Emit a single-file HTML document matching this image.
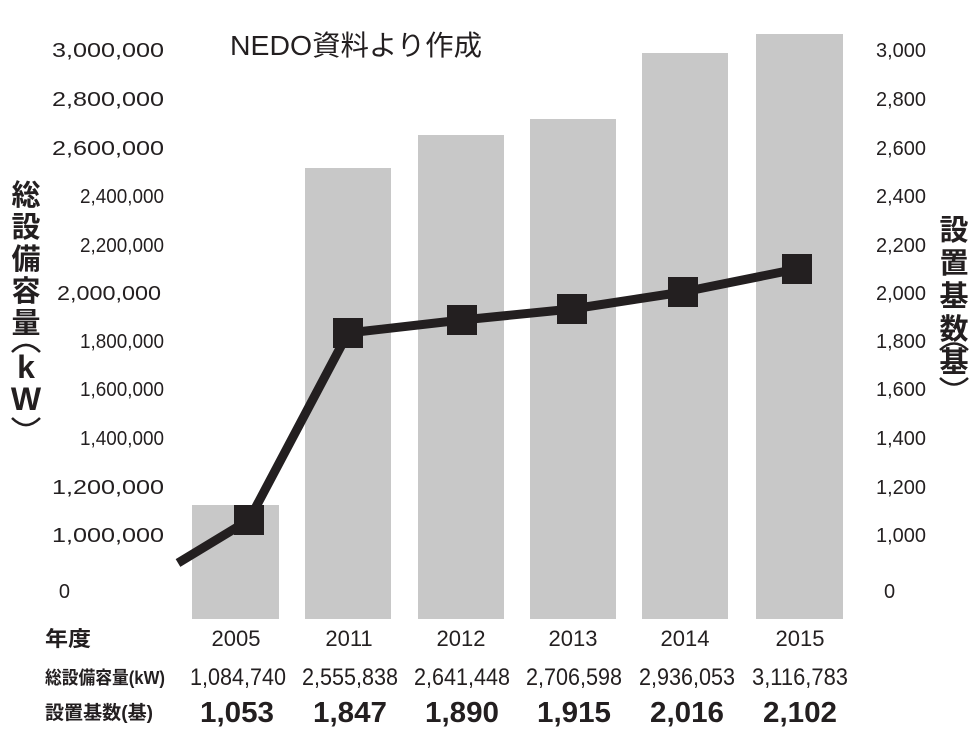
<!DOCTYPE html>
<html><head><meta charset="utf-8"><style>
html,body{margin:0;padding:0;background:#fff}
svg{display:block}
text{font-family:"Liberation Sans","Noto Sans CJK JP",sans-serif;fill:#231f20}
</style></head><body>
<svg width="975" height="731" viewBox="0 0 975 731" xmlns="http://www.w3.org/2000/svg">
<g fill="#c8c8c8">
<rect x="192" y="505" width="87" height="114"/>
<rect x="305" y="168" width="86" height="451"/>
<rect x="418" y="135" width="86" height="484"/>
<rect x="530" y="119" width="86" height="500"/>
<rect x="642" y="53" width="86" height="566"/>
<rect x="756" y="34" width="87" height="585"/>
</g>
<polyline points="178,563 249,520 348,333 462,320 572,309 683,292 797,269" fill="none" stroke="#231f20" stroke-width="9" stroke-linejoin="round"/>
<g fill="#231f20">
<rect x="234" y="505" width="30" height="30"/>
<rect x="333" y="318" width="30" height="30"/>
<rect x="447" y="305" width="30" height="30"/>
<rect x="557" y="294" width="30" height="30"/>
<rect x="668" y="277" width="30" height="30"/>
<rect x="782" y="254" width="30" height="30"/>
</g>
<text x="230" y="55" font-size="28" textLength="252" lengthAdjust="spacingAndGlyphs">NEDO資料より作成</text>
<g font-size="20" text-anchor="end">
<text x="164" y="57" textLength="112" lengthAdjust="spacingAndGlyphs">3,000,000</text>
<text x="164" y="106" textLength="112" lengthAdjust="spacingAndGlyphs">2,800,000</text>
<text x="164" y="155" textLength="112" lengthAdjust="spacingAndGlyphs">2,600,000</text>
<text x="164" y="203" textLength="84" lengthAdjust="spacingAndGlyphs">2,400,000</text>
<text x="164" y="252" textLength="84" lengthAdjust="spacingAndGlyphs">2,200,000</text>
<text x="161" y="300" textLength="104" lengthAdjust="spacingAndGlyphs">2,000,000</text>
<text x="164" y="348" textLength="84" lengthAdjust="spacingAndGlyphs">1,800,000</text>
<text x="164" y="396" textLength="84" lengthAdjust="spacingAndGlyphs">1,600,000</text>
<text x="164" y="445" textLength="84" lengthAdjust="spacingAndGlyphs">1,400,000</text>
<text x="164" y="494" textLength="112" lengthAdjust="spacingAndGlyphs">1,200,000</text>
<text x="164" y="542" textLength="112" lengthAdjust="spacingAndGlyphs">1,000,000</text>
<text x="70" y="598">0</text>
</g>
<g font-size="20">
<text x="876" y="57" textLength="50" lengthAdjust="spacingAndGlyphs">3,000</text>
<text x="876" y="106" textLength="50" lengthAdjust="spacingAndGlyphs">2,800</text>
<text x="876" y="155" textLength="50" lengthAdjust="spacingAndGlyphs">2,600</text>
<text x="876" y="203" textLength="50" lengthAdjust="spacingAndGlyphs">2,400</text>
<text x="876" y="252" textLength="50" lengthAdjust="spacingAndGlyphs">2,200</text>
<text x="876" y="300" textLength="50" lengthAdjust="spacingAndGlyphs">2,000</text>
<text x="876" y="348" textLength="50" lengthAdjust="spacingAndGlyphs">1,800</text>
<text x="876" y="396" textLength="50" lengthAdjust="spacingAndGlyphs">1,600</text>
<text x="876" y="445" textLength="50" lengthAdjust="spacingAndGlyphs">1,400</text>
<text x="876" y="494" textLength="50" lengthAdjust="spacingAndGlyphs">1,200</text>
<text x="876" y="542" textLength="50" lengthAdjust="spacingAndGlyphs">1,000</text>
<text x="884" y="598">0</text>
</g>
<g font-size="29" font-weight="bold" text-anchor="middle">
<text x="26" y="205">総</text><text x="26" y="237">設</text><text x="26" y="269">備</text><text x="26" y="301">容</text><text x="26" y="333">量</text>
<text x="26" y="378" font-size="32">k</text><text x="26" y="410" font-size="32">W</text>
<text x="954" y="240">設</text><text x="954" y="273">置</text><text x="954" y="306">基</text><text x="954" y="339">数</text><text x="954" y="372">基</text>
</g>
<path d="M12,352 Q26,338 40,352" fill="none" stroke="#231f20" stroke-width="2.5"/>
<path d="M12,418 Q26,432 40,418" fill="none" stroke="#231f20" stroke-width="2.5"/>
<path d="M940,350 Q954,337 968,350" fill="none" stroke="#231f20" stroke-width="2.5"/>
<path d="M940,378 Q954,391 968,378" fill="none" stroke="#231f20" stroke-width="2.5"/>
<g font-size="21" font-weight="bold">
<text x="45" y="646" textLength="46" lengthAdjust="spacingAndGlyphs">年度</text>
<text x="45" y="684" font-size="18" textLength="120" lengthAdjust="spacingAndGlyphs">総設備容量(kW)</text>
<text x="45" y="719" font-size="19" textLength="108" lengthAdjust="spacingAndGlyphs">設置基数(基)</text>
</g>
<g font-size="22" text-anchor="middle">
<text x="236" y="646">2005</text><text x="349" y="646">2011</text><text x="461" y="646">2012</text><text x="573" y="646">2013</text><text x="685" y="646">2014</text><text x="800" y="646">2015</text>
</g>
<g font-size="24" text-anchor="middle">
<text x="238" y="685" textLength="96" lengthAdjust="spacingAndGlyphs">1,084,740</text>
<text x="350" y="685" textLength="96" lengthAdjust="spacingAndGlyphs">2,555,838</text>
<text x="462" y="685" textLength="96" lengthAdjust="spacingAndGlyphs">2,641,448</text>
<text x="574" y="685" textLength="96" lengthAdjust="spacingAndGlyphs">2,706,598</text>
<text x="687" y="685" textLength="96" lengthAdjust="spacingAndGlyphs">2,936,053</text>
<text x="800" y="685" textLength="96" lengthAdjust="spacingAndGlyphs">3,116,783</text>
</g>
<g font-size="29" font-weight="bold" text-anchor="middle">
<text x="237" y="722" textLength="74" lengthAdjust="spacingAndGlyphs">1,053</text>
<text x="350" y="722" textLength="74" lengthAdjust="spacingAndGlyphs">1,847</text>
<text x="462" y="722" textLength="74" lengthAdjust="spacingAndGlyphs">1,890</text>
<text x="574" y="722" textLength="74" lengthAdjust="spacingAndGlyphs">1,915</text>
<text x="687" y="722" textLength="74" lengthAdjust="spacingAndGlyphs">2,016</text>
<text x="800" y="722" textLength="74" lengthAdjust="spacingAndGlyphs">2,102</text>
</g>
</svg>
</body></html>
